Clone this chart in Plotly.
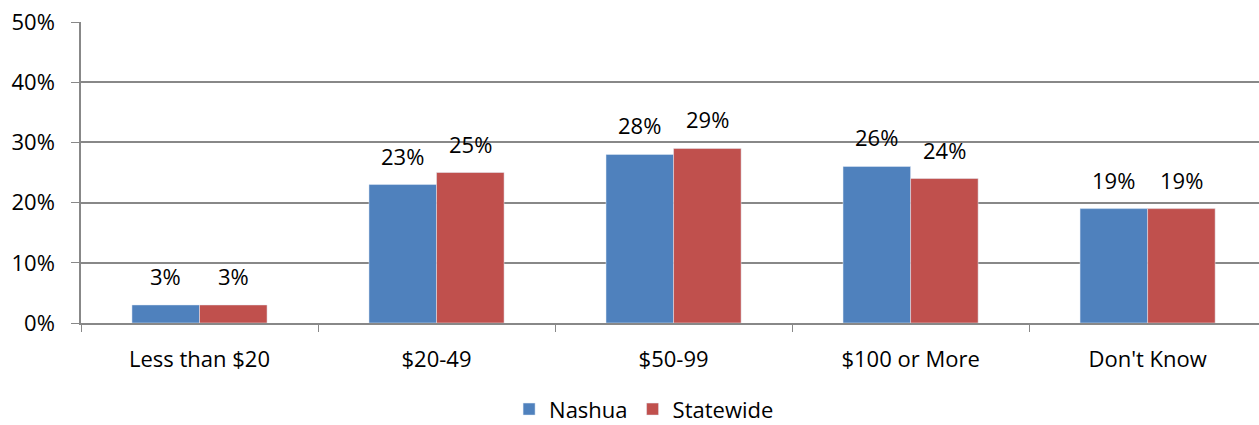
import plotly.graph_objects as go

categories = ["Less than $20", "$20-49", "$50-99", "$100 or More", "Don't Know"]
nashua = [3, 23, 28, 26, 19]
statewide = [3, 25, 29, 24, 19]

FONT = "Open Sans"
BLUE = "#4F81BD"
RED = "#C0504D"
GREY = "#888888"

fig = go.Figure()
fig.add_trace(go.Bar(x=categories, y=nashua, name="Nashua", marker=dict(color=BLUE)))
fig.add_trace(go.Bar(x=categories, y=statewide, name="Statewide", marker=dict(color=RED)))

# data labels sit a bit above the bars, like the Excel original
for vals, dx in ((nashua, -34), (statewide, 34)):
    for cat, v in zip(categories, vals):
        fig.add_annotation(
            x=cat, y=v, text=f"{v}%", showarrow=False,
            xshift=dx, yshift=29, yanchor="middle",
            font=dict(size=22, color="#000000", family=FONT),
        )

fig.update_layout(
    width=1259, height=425,
    margin=dict(l=81, r=0, t=22, b=102),
    plot_bgcolor="white", paper_bgcolor="white",
    barmode="group", bargap=0.43, bargroupgap=0,
    font=dict(family=FONT, size=22, color="#000000"),
    showlegend=True,
    legend=dict(orientation="h", xref="paper", x=0.478, xanchor="center",
                yref="container", y=0.037, yanchor="middle",
                font=dict(size=22), itemwidth=30, traceorder="normal"),
)
fig.update_xaxes(
    range=[-0.5, 4.47], showline=True, linecolor=GREY, linewidth=1.5,
    ticks="outside", tickson="boundaries", ticklen=7, tickcolor=GREY,
    tickfont=dict(size=22), showgrid=False, ticklabelstandoff=16,
)
fig.update_yaxes(
    range=[0, 50], dtick=10, ticksuffix="%", showline=True, linecolor=GREY,
    linewidth=1.5, showgrid=True, gridcolor=GREY, gridwidth=1.5,
    ticks="outside", ticklen=8, tickcolor=GREY, tickfont=dict(size=22),
    zeroline=False, ticklabelstandoff=12, ticklabeloverflow="allow",
)

# drop the page's default body margin so the figure fills the window exactly
fig.write_html(
    "out.html",
    config={"displayModeBar": False},
    post_script="document.body.style.margin='0';",
)
